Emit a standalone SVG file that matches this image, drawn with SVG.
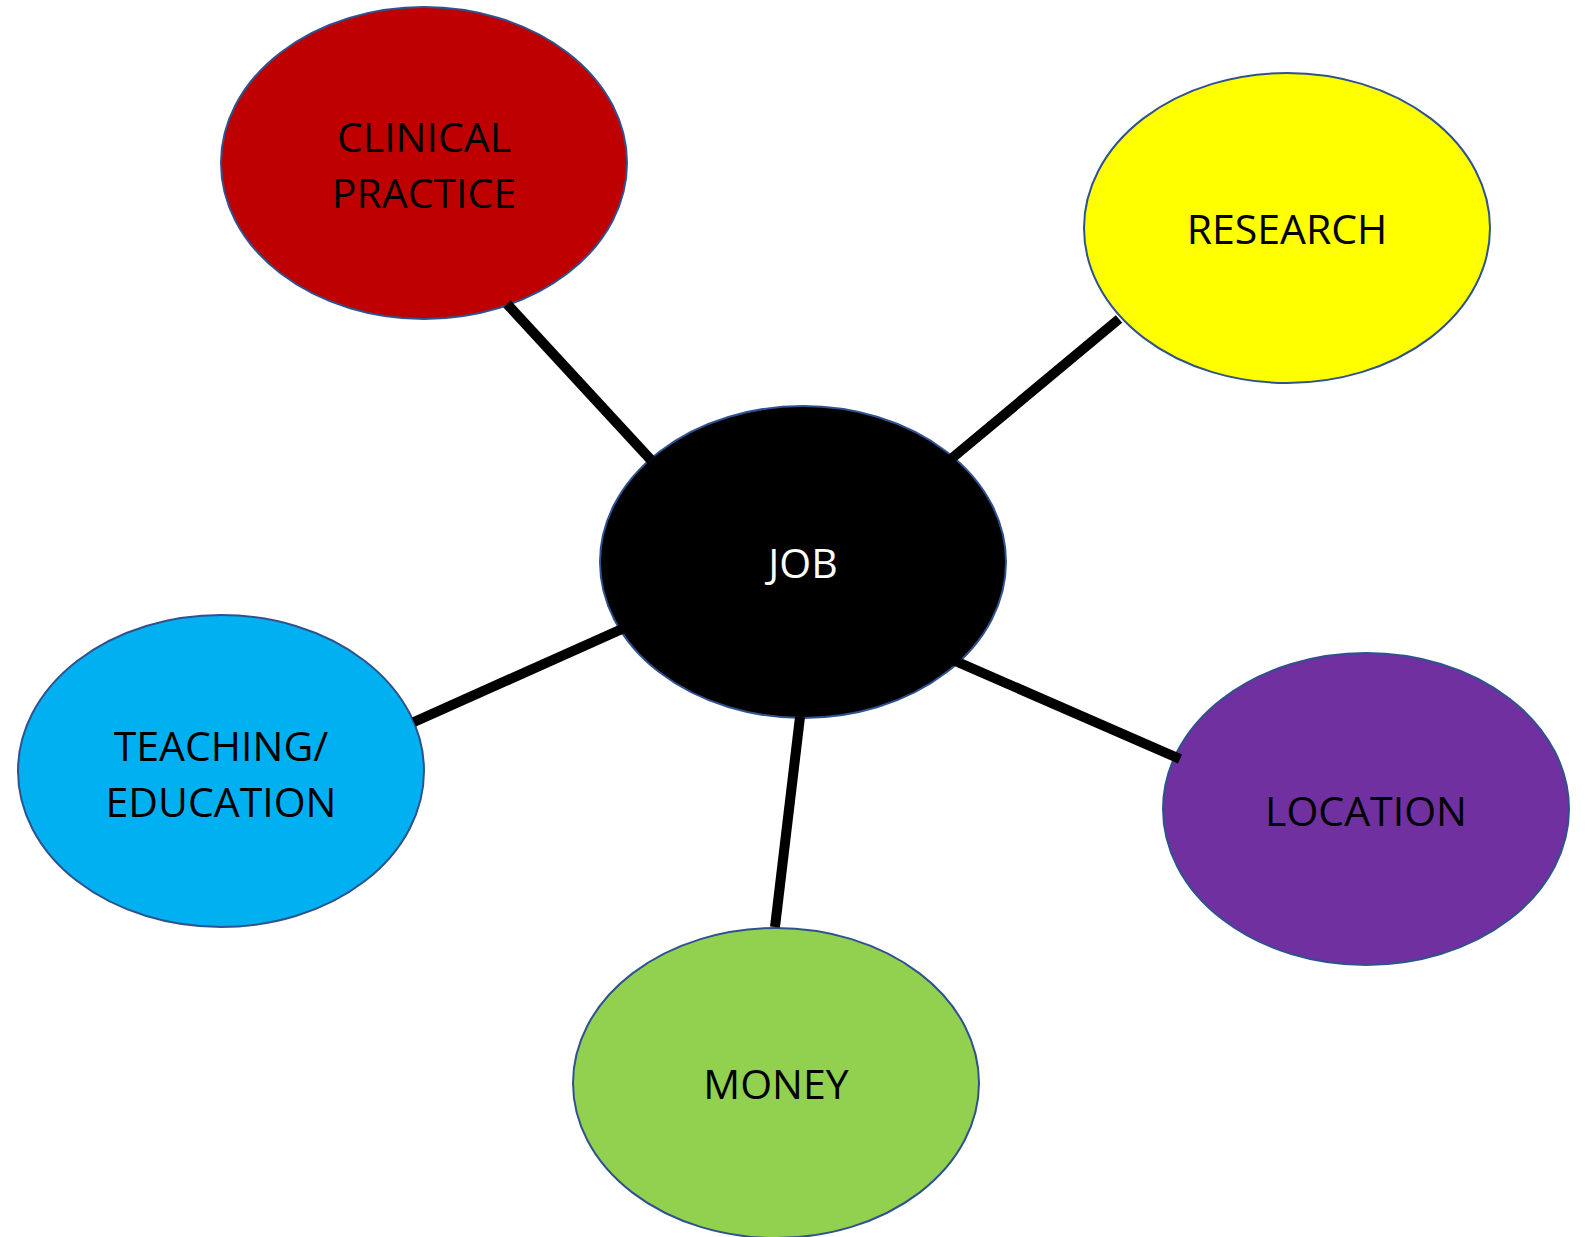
<svg xmlns="http://www.w3.org/2000/svg" width="1591" height="1237" viewBox="0 0 1591 1237">
<style>
.node ellipse{stroke:#2F528F;stroke-width:2}
.node text{font-family:"Open Sans","Liberation Sans",sans-serif;font-size:41px;text-anchor:middle;fill:#000}
.conn line{stroke:#000;stroke-width:10;stroke-linecap:butt}
</style>
<rect width="1591" height="1237" fill="#fff"/>
<g id="clinical" class="node">
<ellipse cx="424" cy="163" rx="203" ry="156" fill="#BE0000"/>
<text x="424" y="152">CLINICAL</text>
<text x="424" y="208">PRACTICE</text>
</g>
<g id="research" class="node">
<ellipse cx="1287" cy="228" rx="203" ry="155" fill="#FFFF00"/>
<text x="1287" y="244">RESEARCH</text>
</g>
<g id="job" class="node">
<ellipse cx="803" cy="562" rx="203" ry="156" fill="#000"/>
<text x="803" y="578" style="fill:#fff">JOB</text>
</g>
<g id="teaching" class="node">
<ellipse cx="221" cy="771" rx="203" ry="156" fill="#00B0F0"/>
<text x="221" y="761">TEACHING/</text>
<text x="221" y="817">EDUCATION</text>
</g>
<g id="location" class="node">
<ellipse cx="1366" cy="809" rx="203" ry="156" fill="#7030A0"/>
<text x="1366" y="826">LOCATION</text>
</g>
<g id="money" class="node">
<ellipse cx="776" cy="1083" rx="203" ry="155" fill="#92D050"/>
<text x="776" y="1099">MONEY</text>
</g>
<g id="connectors" class="conn">
<line x1="507" y1="304" x2="651" y2="460"/>
<line x1="951" y1="459" x2="1119" y2="319"/>
<line x1="622" y1="629" x2="414" y2="722"/>
<line x1="953" y1="660" x2="1180" y2="759"/>
<line x1="800" y1="717" x2="775" y2="927"/>
</g>
</svg>
